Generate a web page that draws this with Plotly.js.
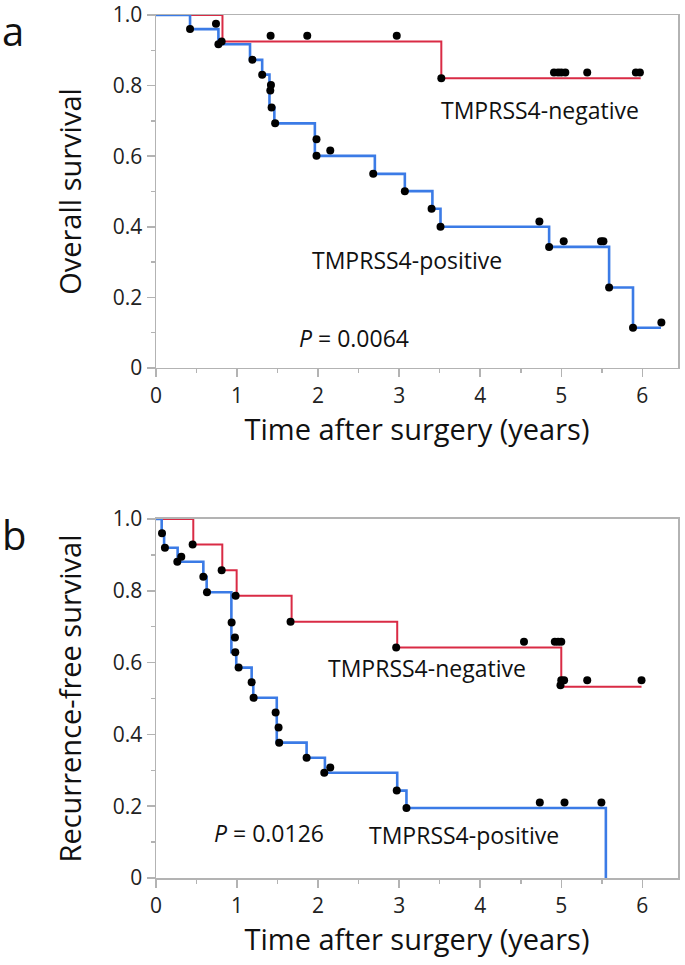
<!DOCTYPE html>
<html>
<head>
<meta charset="utf-8">
<script src="https://cdn.plot.ly/plotly-3.0.1.min.js"></script>
<style>
  html, body { margin: 0; padding: 0; background: #fff; }
  #chart { width: 685px; height: 965px; }
</style>
</head>
<body>
<div id="chart"></div>
<script>
// ---------- Panel a: Overall survival ----------
const osPosTimes = [0, 0.42, 0.77, 1.16, 1.31, 1.40, 1.46, 1.96, 2.70, 3.07, 3.41, 3.51, 4.85, 5.59, 5.885, 6.23];
const osPosSurv  = [1, 0.96, 0.917, 0.873, 0.831, 0.738, 0.693, 0.601, 0.55, 0.501, 0.451, 0.40, 0.343, 0.228, 0.114, 0.114];
const osNegTimes = [0, 0.82, 3.52, 5.98];
const osNegSurv  = [1, 0.925, 0.821, 0.821];

const osPosDotX = [0.42, 0.74, 0.77, 1.19, 1.31, 1.418, 1.41, 1.426, 1.47, 1.98, 1.98, 2.15, 2.68, 3.07, 3.40, 3.51, 4.73, 4.85, 5.03, 5.49, 5.52, 5.59, 5.885, 6.235];
const osPosDotY = [0.96, 0.975, 0.917, 0.873, 0.831, 0.802, 0.786, 0.738, 0.693, 0.648, 0.601, 0.616, 0.55, 0.501, 0.451, 0.40, 0.415, 0.343, 0.359, 0.359, 0.359, 0.228, 0.114, 0.129];
const osNegDotX = [0.81, 1.414, 1.866, 2.97, 3.52, 4.91, 4.96, 5.0, 5.05, 5.32, 5.92, 5.97];
const osNegDotY = [0.925, 0.941, 0.941, 0.941, 0.821, 0.837, 0.837, 0.837, 0.837, 0.837, 0.837, 0.837];

// ---------- Panel b: Recurrence-free survival ----------
const rfsPosTimes = [0, 0.07, 0.10, 0.267, 0.584, 0.625, 0.93, 0.99, 1.18, 1.20, 1.49, 1.858, 2.084, 2.976, 3.09, 5.55];
const rfsPosSurv  = [1, 0.96, 0.92, 0.881, 0.839, 0.796, 0.629, 0.586, 0.545, 0.502, 0.377, 0.335, 0.293, 0.2435, 0.195, 0];
const rfsNegTimes = [0, 0.46, 0.818, 0.995, 1.673, 2.976, 5.0, 5.99];
const rfsNegSurv  = [1, 0.929, 0.857, 0.786, 0.714, 0.642, 0.533, 0.533];

const rfsPosDotX = [0.074, 0.11, 0.263, 0.312, 0.584, 0.629, 0.933, 0.974, 0.978, 1.019, 1.18, 1.204, 1.476, 1.512, 1.52, 1.858, 2.076, 2.15, 2.97, 3.09, 4.735, 5.04, 5.495];
const rfsPosDotY = [0.96, 0.92, 0.881, 0.895, 0.839, 0.796, 0.712, 0.670, 0.629, 0.586, 0.545, 0.502, 0.461, 0.419, 0.377, 0.335, 0.293, 0.308, 0.2435, 0.195, 0.21, 0.21, 0.21];
const rfsNegDotX = [0.452, 0.81, 0.982, 1.66, 2.963, 4.54, 4.92, 4.96, 5.0, 5.0, 5.035, 4.99, 5.32, 5.99];
const rfsNegDotY = [0.929, 0.857, 0.786, 0.714, 0.642, 0.658, 0.658, 0.658, 0.658, 0.551, 0.551, 0.537, 0.551, 0.551];

// ---------- Ticks & labels ----------
const xTickVals = [0, 1, 2, 3, 4, 5, 6];
const xTickText = ['0', '1', '2', '3', '4', '5', '6'];
const xMinorVals = [0.5, 1.5, 2.5, 3.5, 4.5, 5.5];
const yTickVals = [0, 0.2, 0.4, 0.6, 0.8, 1.0];
const yTickText = ['0', '0.2', '0.4', '0.6', '0.8', '1.0'];
const yMinorVals = [0.1, 0.3, 0.5, 0.7, 0.9];
const xTitle = 'Time after surgery (years)';
const yTitleA = 'Overall survival';
const yTitleB = 'Recurrence-free survival';
const groupNeg = 'TMPRSS4-negative';
const groupPos = 'TMPRSS4-positive';
const pA = '<i>P</i> = 0.0064';
const pB = '<i>P</i> = 0.0126';

const RED = '#d92b45';
const BLUE = '#3b7be6';
const AXIS = '#b3b3b3';
const FONT = 'Open Sans, sans-serif';

function stepTrace(x, y, color, width, xa, ya, name) {
  return { x: x, y: y, type: 'scatter', mode: 'lines', line: { shape: 'hv', color: color, width: width },
           xaxis: xa, yaxis: ya, name: name, hoverinfo: 'skip' };
}
function dotTrace(x, y, xa, ya, name) {
  return { x: x, y: y, type: 'scatter', mode: 'markers', marker: { color: '#000', size: 8 },
           xaxis: xa, yaxis: ya, name: name, hoverinfo: 'skip' };
}

const data = [
  stepTrace(osNegTimes, osNegSurv, RED, 2, 'x', 'y', groupNeg),
  stepTrace(osPosTimes, osPosSurv, BLUE, 2.6, 'x', 'y', groupPos),
  dotTrace(osNegDotX, osNegDotY, 'x', 'y', groupNeg + ' marks'),
  dotTrace(osPosDotX, osPosDotY, 'x', 'y', groupPos + ' marks'),
  stepTrace(rfsNegTimes, rfsNegSurv, RED, 2, 'x2', 'y2', groupNeg),
  stepTrace(rfsPosTimes, rfsPosSurv, BLUE, 2.6, 'x2', 'y2', groupPos),
  dotTrace(rfsNegDotX, rfsNegDotY, 'x2', 'y2', groupNeg + ' marks'),
  dotTrace(rfsPosDotX, rfsPosDotY, 'x2', 'y2', groupPos + ' marks')
];

function xAxis(anchor, standoff) {
  return {
    anchor: anchor, domain: [0, 1], range: [0, 6.44],
    tickvals: xTickVals, ticktext: xTickText,
    ticks: 'outside', ticklen: 8, tickwidth: 1.5, tickcolor: AXIS,
    minor: { tickvals: xMinorVals, ticks: 'outside', ticklen: 4, tickwidth: 1.5, tickcolor: AXIS, showgrid: false },
    showline: true, linecolor: AXIS, linewidth: 1.5, mirror: true,
    showgrid: false, zeroline: false, ticklabeloverflow: 'allow',
    tickfont: { family: FONT, size: 21, color: '#222' },
    title: { text: xTitle, font: { family: FONT, size: 29, color: '#111' }, standoff: standoff }
  };
}
function yAxis(anchor, domain, title) {
  return {
    anchor: anchor, domain: domain, range: [0, 1],
    tickvals: yTickVals, ticktext: yTickText,
    ticks: 'outside', ticklen: 8, tickwidth: 1.5, tickcolor: AXIS,
    minor: { tickvals: yMinorVals, ticks: 'outside', ticklen: 4, tickwidth: 1.5, tickcolor: AXIS, showgrid: false },
    showline: true, linecolor: AXIS, linewidth: 1.5, mirror: true,
    showgrid: false, zeroline: false, ticklabeloverflow: 'allow',
    tickfont: { family: FONT, size: 21, color: '#222' },
    title: { text: title, font: { family: FONT, size: 29, color: '#111' }, standoff: 22 }
  };
}

const annFont = { family: FONT, size: 23, color: '#111' };
const layout = {
  width: 685, height: 965,
  margin: { l: 156, r: 7, t: 15, b: 87 },
  paper_bgcolor: '#fff', plot_bgcolor: '#fff',
  showlegend: false,
  font: { family: FONT },
  xaxis: xAxis('y', 10),
  yaxis: yAxis('x', [0.591, 1], yTitleA),
  xaxis2: xAxis('y2', 10),
  yaxis2: yAxis('x2', [0, 0.416], yTitleB),
  annotations: [
    { text: groupNeg, xref: 'x', yref: 'y', x: 4.74, y: 0.73, showarrow: false, font: annFont },
    { text: groupPos, xref: 'x', yref: 'y', x: 3.10, y: 0.305, showarrow: false, font: annFont },
    { text: pA, xref: 'x', yref: 'y', x: 2.44, y: 0.085, showarrow: false, font: annFont },
    { text: groupNeg, xref: 'x2', yref: 'y2', x: 3.34, y: 0.585, showarrow: false, font: annFont },
    { text: groupPos, xref: 'x2', yref: 'y2', x: 3.80, y: 0.12, showarrow: false, font: annFont },
    { text: pB, xref: 'x2', yref: 'y2', x: 1.39, y: 0.125, showarrow: false, font: annFont },
    { text: 'a', xref: 'paper', yref: 'paper', x: -0.299, y: 1.016, xanchor: 'left', yanchor: 'top', showarrow: false,
      font: { family: FONT, size: 40, color: '#111' } },
    { text: 'b', xref: 'paper', yref: 'paper', x: -0.299, y: 0.432, xanchor: 'left', yanchor: 'top', showarrow: false,
      font: { family: FONT, size: 40, color: '#111' } }
  ]
};

Plotly.newPlot('chart', data, layout, { displayModeBar: false, staticPlot: true });
</script>
</body>
</html>
